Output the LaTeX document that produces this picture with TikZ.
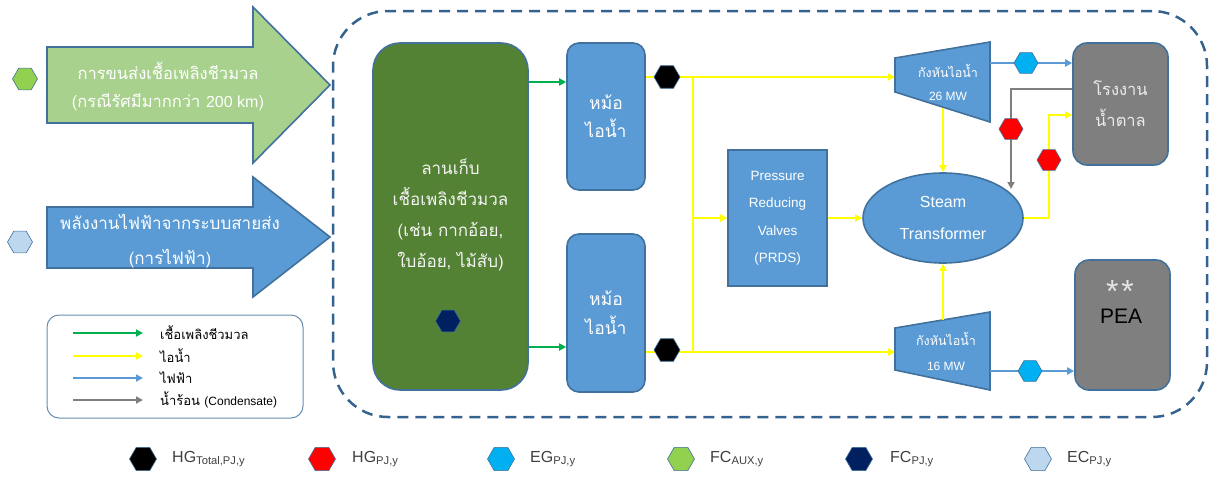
\documentclass[tikz,border=0pt]{standalone}
\usepackage{fontspec}
\setmainfont{Liberation Sans}
\newfontfamily\thai[Script=Thai]{Loma}
\usetikzlibrary{shapes.geometric,arrows.meta,calc}
\definecolor{bfill}{HTML}{5B9BD5}
\definecolor{bline}{HTML}{41719C}
\definecolor{dline}{HTML}{35638F}
\definecolor{gbox}{HTML}{548235}
\definecolor{lgreen}{HTML}{A9D18E}
\definecolor{graybox}{HTML}{7F7F7F}
\definecolor{flowgreen}{HTML}{00B050}
\definecolor{flowyellow}{HTML}{FFFF00}
\definecolor{flowblue}{HTML}{5B9BD5}
\definecolor{flowgray}{HTML}{7F7F7F}
\definecolor{hcyan}{HTML}{00B0F0}
\definecolor{hgreen}{HTML}{92D050}
\definecolor{hnavy}{HTML}{002060}
\definecolor{hlblue}{HTML}{BDD7EE}
\definecolor{keygray}{HTML}{404040}
\begin{document}
\begin{tikzpicture}[x=1pt,y=-1pt,
  tri/.tip={Triangle[length=7pt,width=7pt]},
  bluebox/.style={draw=bline,line width=1.6pt,fill=bfill,text=white,align=center,inner sep=0pt},
  graybx/.style={draw=bline,line width=1.6pt,fill=graybox,align=center,inner sep=0pt,rounded corners=14pt},
  yflow/.style={draw=flowyellow,line width=2.6pt},
  gflow/.style={draw=flowgreen,line width=2.2pt,-tri},
  eflow/.style={draw=flowblue,line width=2.2pt,-tri},
  cflow/.style={draw=flowgray,line width=2.2pt,-tri},
  hexa/.style={regular polygon,regular polygon sides=6,minimum size=25pt,inner sep=0pt,draw=bline,line width=0.6pt},
  keytxt/.style={anchor=west,inner sep=0pt,text=keygray,font=\fontsize{16}{18}\selectfont},
  legtxt/.style={anchor=west,inner sep=0pt,text=black,font=\thai\fontsize{13}{14}\selectfont},
  trans/.style={inner sep=0pt,align=center}
]
\useasboundingbox (0,0) rectangle (1214,479);

% system boundary
\node[draw=dline,line width=2.5pt,dash pattern=on 11pt off 7pt,rounded corners=55pt,
  minimum width=874pt,minimum height=406pt,inner sep=0pt] (sys) at (770,214) {};

% big input arrows
\draw[bline,line width=1.6pt,fill=lgreen] (47,47) -- (253,47) -- (253,7) -- (330,85) -- (253,163) -- (253,123) -- (47,123) -- cycle;
\node[trans,text=white,font=\thai\fontsize{16.5}{28}\selectfont] (a1) at (168,86)
  {การขนส่งเชื้อเพลิงชีวมวล\\({\thai กรณีรัศมีมากกว่า} {\fontspec{Liberation Sans}\fontsize{16}{28}\selectfont 200 km})};
\draw[bline,line width=1.6pt,fill=bfill] (47,207) -- (253,207) -- (253,177) -- (330,237) -- (253,297) -- (253,268) -- (47,268) -- cycle;
\node[trans,text=white,font=\thai\fontsize{17}{35}\selectfont] (a2) at (170,241)
  {พลังงานไฟฟ้าจากระบบสายส่ง\\(การไฟฟ้า)};
\node[hexa,fill=hgreen] (hx1) at (25,79) {};
\node[hexa,fill=hlblue] (hx2) at (20,242) {};

% storage yard
\node[draw=bline,line width=1.6pt,fill=gbox,rounded corners=27pt,minimum width=155pt,minimum height=347pt,
  inner sep=0pt] (store) at (450.5,216.5) {};
\node[trans,text=white!92!gray,font=\thai\fontsize{17}{31}\selectfont] (storet) at (450.5,215)
  {ลานเก็บ\\เชื้อเพลิงชีวมวล\\(เช่น กากอ้อย,\\ใบอ้อย, ไม้สับ)};
\node[hexa,fill=hnavy] (hnv) at (448,321) {};

% boilers
\node[bluebox,rounded corners=12pt,minimum width=78pt,minimum height=147pt,font=\thai\fontsize{17.5}{28}\selectfont] (b1) at (606,116.5) {หม้อ\\ไอน้ำ};
\node[bluebox,rounded corners=12pt,minimum width=78pt,minimum height=158pt,font=\thai\fontsize{17.5}{29}\selectfont] (b2) at (606,313) {หม้อ\\ไอน้ำ};

% PRDS
\node[bluebox,minimum width=99pt,minimum height=136pt,font=\fontsize{13.5}{27.5}\selectfont] (prds) at (777.5,218) {Pressure\\Reducing\\Valves\\(PRDS)};

% steam transformer
\node[bluebox,ellipse,minimum width=160pt,minimum height=90pt,font=\fontsize{16}{32}\selectfont] (st) at (943,218) {Steam\\Transformer};

% turbines
\draw[bline,line width=1.6pt,fill=bfill] (895,58) -- (990,42) -- (990,122) -- (895,92) -- cycle;
\node[trans,text=white,font=\fontsize{12}{23}\selectfont] (t1) at (948,82) {{\thai\fontsize{12.5}{23}\selectfont กังหันไอน้ำ}\\26 MW};
\draw[bline,line width=1.6pt,fill=bfill] (895,328) -- (990,312) -- (990,390) -- (895,370) -- cycle;
\node[trans,text=white,font=\fontsize{12}{25}\selectfont] (t2) at (946,351) {{\thai\fontsize{12.5}{25}\selectfont กังหันไอน้ำ}\\16 MW};

% sugar mill and PEA
\node[graybx,minimum width=95pt,minimum height=122pt,text=white!85!gray,font=\thai\fontsize{16.5}{31}\selectfont] (sug) at (1120.5,104) {โรงงาน\\น้ำตาล};
\node[graybx,minimum width=95pt,minimum height=130pt] (pea) at (1122.5,325) {};
\node[trans,text=white!80!gray,font=\fontsize{32}{32}\selectfont] (ast) at (1120,291) {*\kern3pt*};
\node[trans,text=black,font=\fontsize{21}{22}\selectfont] (peat) at (1121,316) {PEA};

% helper coordinates
\coordinate (yg1) at (0,82);
\coordinate (yg2) at (0,347);
\coordinate (j1) at (693,77);
\coordinate (j2) at (693,352);
\coordinate (t1in) at (895,77);
\coordinate (t2in) at (895,352);
\coordinate (t1out) at (990,63);
\coordinate (t2out) at (990,371);
\coordinate (t1bot) at (943,108);
\coordinate (t2top) at (943,320);
\coordinate (sy) at (1049,115);
\coordinate (gy) at (1011,89);
\coordinate (gend) at (1011,189);

% fuel flows
\draw[gflow] (store.east |- yg1) -- (b1.west |- yg1);
\draw[gflow] (store.east |- yg2) -- (b2.west |- yg2);

% steam flows
\draw[yflow,-tri] (b1.east |- j1) -- (t1in);
\draw[yflow,-tri] (b2.east |- j2) -- (t2in);
\draw[yflow] (j1) -- (j2);
\draw[yflow,-tri] (j1 |- prds.west) -- (prds.west);
\draw[yflow,-tri] (prds.east) -- (st.west);
\draw[yflow,-tri] (t1bot) -- (st.north);
\draw[yflow,-tri] (t2top) -- (st.south);
\draw[yflow,-tri] (st.east) -| (sy) -- (sug.west |- sy);

% condensate
\draw[cflow] (sug.west |- gy) -- (gy) -- (gend);

% electricity
\draw[eflow] (t1out) -- (sug.west |- t1out);
\draw[eflow] (t2out) -- (pea.west |- t2out);

% markers on flows
\node[hexa,fill=black,minimum size=26pt] (hb1) at (667,77) {};
\node[hexa,fill=black,minimum size=26pt] (hb2) at (667,350) {};
\node[hexa,fill=red,minimum size=24pt] (hr1) at (1011,129) {};
\node[hexa,fill=red,minimum size=24pt] (hr2) at (1049,160) {};
\node[hexa,fill=hcyan,minimum size=24pt] (hc1) at (1026,63) {};
\node[hexa,fill=hcyan,minimum size=24pt] (hc2) at (1030,371) {};

% flow legend
\node[draw=bline!80,line width=1pt,rounded corners=12pt,minimum width=256pt,minimum height=103pt,inner sep=0pt] (leg) at (175,366.5) {};
\node[legtxt] (l1) at (160,333) {เชื้อเพลิงชีวมวล};
\node[legtxt] (l2) at (160,356) {ไอน้ำ};
\node[legtxt] (l3) at (160,378) {ไฟฟ้า};
\node[legtxt] (l4) at (160,400) {น้ำร้อน {\fontspec{Liberation Sans}\fontsize{12}{14}\selectfont(Condensate)}};
\draw[gflow] ($(l1.west)+(-87,0)$) -- ($(l1.west)+(-17,0)$);
\draw[yflow,-tri] ($(l2.west)+(-87,0)$) -- ($(l2.west)+(-17,0)$);
\draw[eflow] ($(l3.west)+(-87,0)$) -- ($(l3.west)+(-17,0)$);
\draw[cflow] ($(l4.west)+(-87,0)$) -- ($(l4.west)+(-17,0)$);

% symbol key
\node[hexa,fill=black,minimum size=27pt] (k1) at (143,459) {};
\node[keytxt] (k1t) at (172,459) {HG\textsubscript{Total,PJ,y}};
\node[hexa,fill=red,minimum size=27pt] (k2) at (322,459) {};
\node[keytxt] (k2t) at (352,459) {HG\textsubscript{PJ,y}};
\node[hexa,fill=hcyan,minimum size=27pt] (k3) at (501,459) {};
\node[keytxt] (k3t) at (530,459) {EG\textsubscript{PJ,y}};
\node[hexa,fill=hgreen,minimum size=27pt] (k4) at (681,459) {};
\node[keytxt] (k4t) at (710,459) {FC\textsubscript{AUX,y}};
\node[hexa,fill=hnavy,minimum size=27pt] (k5) at (859,459) {};
\node[keytxt] (k5t) at (890,459) {FC\textsubscript{PJ,y}};
\node[hexa,fill=hlblue,minimum size=27pt] (k6) at (1038,459) {};
\node[keytxt] (k6t) at (1067,459) {EC\textsubscript{PJ,y}};
\end{tikzpicture}
\end{document}
